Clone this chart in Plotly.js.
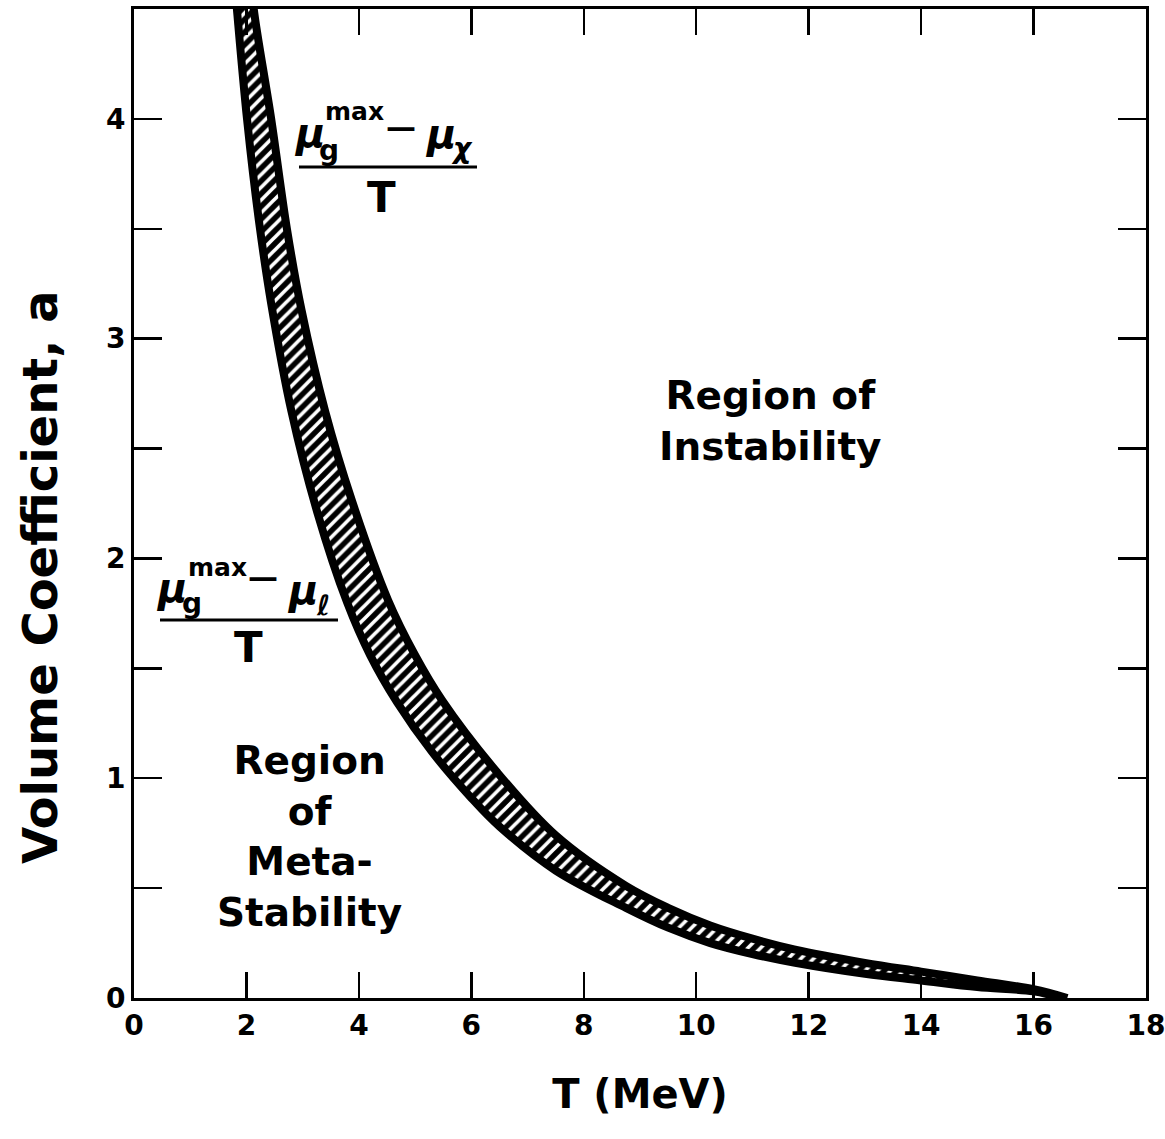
<!DOCTYPE html>
<html>
<head>
<meta charset="utf-8">
<script src="https://cdn.plot.ly/plotly-3.0.1.min.js"></script>
<style>
  html, body { margin: 0; padding: 0; background: #fff; }
  #chart { width: 1165px; height: 1139px; }
</style>
</head>
<body>
<div id="chart"></div>
<script>
// Lower boundary: (mu_g^max - mu_l)/T
const tLiquid = [1.78, 1.83, 2.01, 2.22, 2.44, 2.8, 3.26, 3.79, 4.2, 4.68, 5.3, 6.0, 6.5, 7.5, 8.75, 9.5, 10.25, 11.0, 11.76, 13.0, 14.0, 15.0, 16.0, 16.5];
const aLiquid = [4.65, 4.5, 4.0, 3.54, 3.16, 2.67, 2.21, 1.80, 1.56, 1.345, 1.12, 0.91, 0.78, 0.58, 0.41, 0.32, 0.25, 0.20, 0.16, 0.11, 0.08, 0.05, 0.03, 0.0];

// Upper boundary: (mu_g^max - mu_chi)/T
const tChi = [2.08, 2.13, 2.44, 2.72, 2.98, 3.4, 3.88, 4.52, 5.0, 5.48, 6.45, 7.5, 8.75, 9.5, 10.25, 11.0, 11.76, 13.0, 14.0, 15.0, 16.0, 16.6];
const aChi = [4.65, 4.5, 4.0, 3.5, 3.13, 2.67, 2.26, 1.81, 1.56, 1.355, 1.03, 0.74, 0.51, 0.41, 0.33, 0.27, 0.22, 0.16, 0.12, 0.08, 0.04, 0.0];

// Axis ticks
const xTicks = [0, 2, 4, 6, 8, 10, 12, 14, 16, 18];
const yTicks = [0, 0.5, 1, 1.5, 2, 2.5, 3, 3.5, 4, 4.5];
const yTickText = ['0', '', '1', '', '2', '', '3', '', '4', ''];

const FONT = 'DejaVu Sans';

// Hatched band between the two boundaries (closed polygon)
const bandX = tLiquid.concat(tChi.slice().reverse());
const bandY = aLiquid.concat(aChi.slice().reverse());

const traces = [
  {
    x: bandX, y: bandY, type: 'scatter', mode: 'lines',
    fill: 'toself', fillcolor: 'black',
    fillpattern: { shape: '/', bgcolor: 'black', fgcolor: 'white', size: 9, solidity: 0.4 },
    line: { width: 0, color: 'black' }, hoverinfo: 'skip', showlegend: false
  },
  {
    x: tLiquid, y: aLiquid, type: 'scatter', mode: 'lines',
    line: { color: 'black', width: 8, shape: 'spline', smoothing: 1 }, showlegend: false
  },
  {
    x: tChi, y: aChi, type: 'scatter', mode: 'lines',
    line: { color: 'black', width: 8, shape: 'spline', smoothing: 1 }, showlegend: false
  }
];

// pixel helpers for placing labels inside the plot area
const L = 134, R = 1146, TOP = 9, BOT = 998;
const px2x = p => (p - L) / (R - L) * 18;
const py2y = p => (BOT - p) / (BOT - TOP) * 4.5;

function txt(text, px, py, size, extra) {
  return Object.assign({
    text: text, x: px2x(px), y: py2y(py), xref: 'x', yref: 'y',
    showarrow: false, xanchor: 'center', yanchor: 'middle',
    font: { family: FONT, size: size, color: 'black', weight: 700 }
  }, extra || {});
}

const annotations = [
  // upper fraction
  txt('<i>μ</i>', 309, 133, 40),
  txt('max', 354, 111, 25),
  txt('g', 329, 150, 28),
  txt('—', 401, 126, 30),
  txt('<i>μ</i>', 440, 134, 40),
  txt('<i>χ</i>', 462, 148, 28),
  txt('T', 381, 197, 42),
  // lower fraction
  txt('<i>μ</i>', 171, 588, 40),
  txt('max', 217, 567, 25),
  txt('g', 192, 603, 28),
  txt('—', 263, 576, 30),
  txt('<i>μ</i>', 302, 590, 40),
  txt('<i>ℓ</i>', 323, 605, 28),
  txt('T', 248, 647, 42),
  // region labels
  txt('Region of<br>Instability', 770, 421, 39),
  txt('Region<br>of<br>Meta-<br>Stability', 309, 836, 39),
  // y-axis title
  {
    text: 'Volume Coefficient, a', xref: 'paper', yref: 'paper',
    x: (40 - L) / (R - L), y: (BOT - 577) / (BOT - TOP),
    xanchor: 'center', yanchor: 'middle', textangle: -90, showarrow: false,
    font: { family: FONT, size: 48, color: 'black', weight: 700 }
  }
];

const shapes = [
  { type: 'line', xref: 'x', yref: 'y', x0: px2x(299), x1: px2x(477), y0: py2y(167), y1: py2y(167), line: { color: 'black', width: 3 } },
  { type: 'line', xref: 'x', yref: 'y', x0: px2x(160), x1: px2x(338), y0: py2y(620), y1: py2y(620), line: { color: 'black', width: 3 } }
];

const layout = {
  width: 1165, height: 1139,
  margin: { l: L, r: 1165 - R, t: TOP, b: 1139 - BOT },
  paper_bgcolor: 'white', plot_bgcolor: 'white',
  showlegend: false,
  font: { family: FONT, color: 'black' },
  xaxis: {
    range: [0, 18], tickvals: xTicks, ticks: 'inside', ticklen: 26, tickwidth: 2.5, tickcolor: 'black',
    showline: true, linewidth: 3, linecolor: 'black', mirror: 'ticks',
    showgrid: false, zeroline: false, ticklabeloverflow: 'allow',
    tickfont: { family: FONT, size: 28, color: 'black', weight: 700 },
    title: { text: 'T (MeV)', font: { family: FONT, size: 40, color: 'black', weight: 700 }, standoff: 40 }
  },
  yaxis: {
    range: [0, 4.5], tickvals: yTicks, ticktext: yTickText, ticks: 'inside', ticklen: 28, tickwidth: 2.5, tickcolor: 'black',
    showline: true, linewidth: 3, linecolor: 'black', mirror: 'ticks',
    showgrid: false, zeroline: false, ticklabeloverflow: 'allow',
    tickfont: { family: FONT, size: 28, color: 'black', weight: 700 }
  },
  annotations: annotations,
  shapes: shapes
};

Plotly.newPlot('chart', traces, layout, { displayModeBar: false, staticPlot: true });
</script>
</body>
</html>
